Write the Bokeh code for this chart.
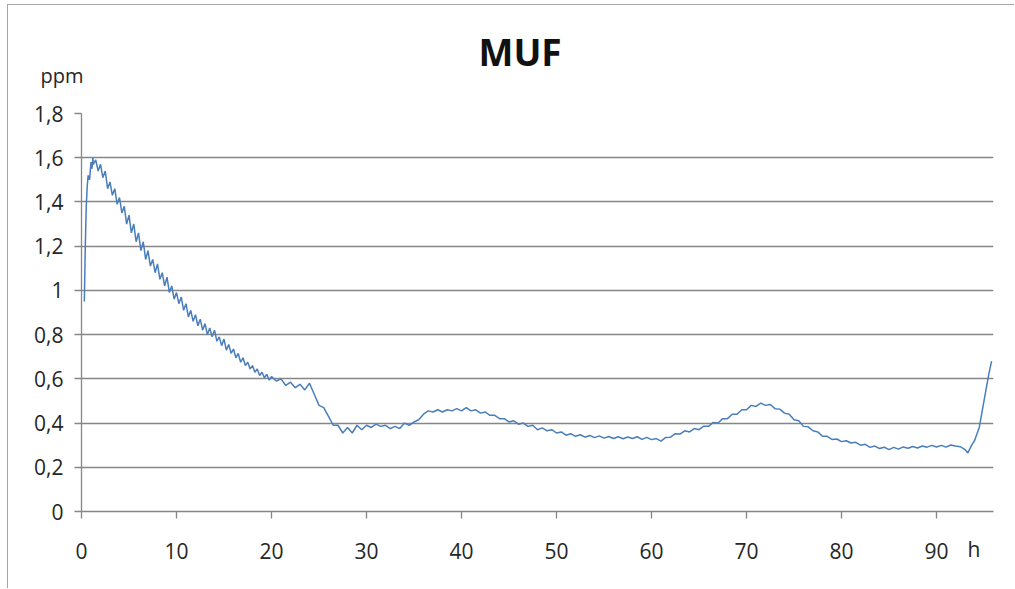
from bokeh.plotting import figure
from bokeh.models import Range1d, Title, FixedTicker, CustomJSTickFormatter
from bokeh.embed import file_html
from bokeh.resources import INLINE

# ---- data ----
hours_start = [0.3, 0.4, 0.5, 0.6, 0.7, 0.85, 1.0, 1.1, 1.2]
ppm_start = [0.95, 1.20, 1.38, 1.47, 1.52, 1.50, 1.58, 1.55, 1.60]

hours_early = [1.25, 1.5, 1.75, 2.0, 2.25, 2.5, 2.75, 3.0, 3.25, 3.5, 3.75, 4.0,
               4.25, 4.5, 4.75, 5.0, 5.25, 5.5, 5.75, 6.0, 6.25, 6.5, 6.75, 7.0,
               7.25, 7.5, 7.75, 8.0, 8.25, 8.5, 8.75, 9.0, 9.25, 9.5, 9.75, 10.0,
               10.25, 10.5, 10.75, 11.0, 11.25, 11.5, 11.75, 12.0, 12.25, 12.5, 12.75, 13.0,
               13.25, 13.5, 13.75, 14.0, 14.25, 14.5, 14.75, 15.0, 15.25, 15.5, 15.75, 16.0,
               16.25, 16.5, 16.75, 17.0, 17.25, 17.5, 17.75, 18.0, 18.25, 18.5, 18.75, 19.0,
               19.25, 19.5, 19.75, 20.0]
ppm_early = [1.57, 1.59, 1.54, 1.57, 1.51, 1.54, 1.46, 1.49, 1.43, 1.46, 1.39, 1.42,
             1.35, 1.38, 1.30, 1.34, 1.26, 1.30, 1.22, 1.26, 1.18, 1.22, 1.14, 1.18,
             1.11, 1.14, 1.08, 1.12, 1.05, 1.08, 1.02, 1.06, 0.99, 1.02, 0.96, 0.99,
             0.94, 0.97, 0.91, 0.94, 0.88, 0.91, 0.86, 0.89, 0.84, 0.87, 0.82, 0.85,
             0.80, 0.83, 0.79, 0.82, 0.77, 0.79, 0.75, 0.78, 0.73, 0.755, 0.715, 0.735,
             0.695, 0.715, 0.675, 0.695, 0.66, 0.675, 0.645, 0.66, 0.63, 0.645, 0.615, 0.63,
             0.605, 0.62, 0.595, 0.61]

hours_late = [20.5, 21.0, 21.5, 22.0, 22.5, 23.0, 23.5, 24.0, 24.5, 25.0, 25.5, 26.0,
              26.5, 27.0, 27.5, 28.0, 28.5, 29.0, 29.5, 30.0, 30.5, 31.0, 31.5, 32.0,
              32.5, 33.0, 33.5, 34.0, 34.5, 35.0, 35.5, 36.0, 36.5, 37.0, 37.5, 38.0,
              38.5, 39.0, 39.5, 40.0, 40.5, 41.0, 41.5, 42.0, 42.5, 43.0, 43.5, 44.0,
              44.5, 45.0, 45.5, 46.0, 46.5, 47.0, 47.5, 48.0, 48.5, 49.0, 49.5, 50.0,
              50.5, 51.0, 51.5, 52.0, 52.5, 53.0, 53.5, 54.0, 54.5, 55.0, 55.5, 56.0,
              56.5, 57.0, 57.5, 58.0, 58.5, 59.0, 59.5, 60.0, 60.5, 61.0, 61.5, 62.0,
              62.5, 63.0, 63.5, 64.0, 64.5, 65.0, 65.5, 66.0, 66.5, 67.0, 67.5, 68.0,
              68.5, 69.0, 69.5, 70.0, 70.5, 71.0, 71.5, 72.0, 72.5, 73.0, 73.5, 74.0,
              74.5, 75.0, 75.5, 76.0, 76.5, 77.0, 77.5, 78.0, 78.5, 79.0, 79.5, 80.0,
              80.5, 81.0, 81.5, 82.0, 82.5, 83.0, 83.5, 84.0, 84.5, 85.0, 85.5, 86.0,
              86.5, 87.0, 87.5, 88.0, 88.5, 89.0, 89.5, 90.0, 90.5, 91.0, 91.5, 92.0,
              92.5, 93.0, 93.3, 93.7, 94.0, 94.5, 95.0, 95.5, 95.8]
ppm_late = [0.59, 0.60, 0.57, 0.585, 0.56, 0.575, 0.55, 0.58, 0.53, 0.48, 0.47, 0.43,
            0.39, 0.39, 0.355, 0.38, 0.355, 0.39, 0.37, 0.39, 0.38, 0.395, 0.385, 0.39,
            0.375, 0.385, 0.375, 0.40, 0.39, 0.405, 0.415, 0.44, 0.455, 0.45, 0.46, 0.45,
            0.46, 0.455, 0.465, 0.455, 0.47, 0.455, 0.46, 0.445, 0.45, 0.435, 0.435, 0.42,
            0.42, 0.405, 0.41, 0.395, 0.40, 0.385, 0.39, 0.37, 0.378, 0.365, 0.37, 0.355,
            0.36, 0.345, 0.352, 0.34, 0.347, 0.336, 0.344, 0.334, 0.342, 0.332, 0.339, 0.33,
            0.338, 0.329, 0.337, 0.33, 0.338, 0.326, 0.335, 0.325, 0.33, 0.318, 0.335, 0.336,
            0.352, 0.35, 0.365, 0.36, 0.375, 0.37, 0.386, 0.385, 0.403, 0.40, 0.42, 0.42,
            0.44, 0.44, 0.46, 0.46, 0.48, 0.475, 0.49, 0.48, 0.484, 0.465, 0.463, 0.445,
            0.44, 0.415, 0.41, 0.385, 0.383, 0.365, 0.36, 0.34, 0.34, 0.326, 0.328, 0.316,
            0.32, 0.31, 0.313, 0.30, 0.304, 0.29, 0.296, 0.285, 0.291, 0.28, 0.29, 0.282,
            0.292, 0.286, 0.294, 0.287, 0.296, 0.291, 0.299, 0.292, 0.299, 0.291, 0.301, 0.296,
            0.293, 0.28, 0.265, 0.30, 0.32, 0.38, 0.50, 0.62, 0.68]

hours = hours_start + hours_early + hours_late
ppm = ppm_start + ppm_early + ppm_late

x_ticks = [0, 10, 20, 30, 40, 50, 60, 70, 80, 90]
y_ticks = [0, 0.2, 0.4, 0.6, 0.8, 1.0, 1.2, 1.4, 1.6, 1.8]
title_text = "MUF"
y_unit = "ppm"
x_unit = "h"

FONT = "Open Sans"
TXT = "#262626"
GRID = "#868686"

p = figure(width=1007, height=584, output_backend="svg", toolbar_location=None, title=None,
           x_range=Range1d(0, 96), y_range=Range1d(0, 1.8),
           min_border_left=73, min_border_right=22, min_border_top=108, min_border_bottom=78)
p.outline_line_color = None
p.styles = {"margin-left": "7px", "margin-top": "4px",
            "border-left": "1px solid #a6a6a6", "border-top": "1px solid #a6a6a6"}

p.line(hours, ppm, line_color="#4a7ebb", line_width=1.5)

p.xgrid.visible = False
p.ygrid.grid_line_color = GRID
p.ygrid.grid_line_width = 1.3
p.ygrid.ticker = FixedTicker(ticks=y_ticks)

for ax in (p.xaxis[0], p.yaxis[0]):
    ax.axis_line_color = GRID
    ax.axis_line_width = 1.3
    ax.major_tick_line_color = GRID
    ax.major_tick_line_width = 1.3
    ax.major_tick_in = 0
    ax.major_tick_out = 7
    ax.minor_tick_line_color = None
    ax.major_label_text_font = FONT
    ax.major_label_text_font_size = "21px"
    ax.major_label_text_color = TXT

p.xaxis.ticker = FixedTicker(ticks=x_ticks)
p.xaxis.major_label_standoff = 24

p.yaxis.ticker = FixedTicker(ticks=y_ticks)
p.yaxis.major_label_standoff = 11
p.yaxis.formatter = CustomJSTickFormatter(code="""
    var s = (Math.round(tick*10)/10).toString();
    return s.replace('.', ',');
""")

p.add_layout(Title(text=y_unit, align="left", offset=-41, standoff=50,
                   text_font=FONT, text_font_size="20px", text_font_style="normal",
                   text_color=TXT), "above")
p.add_layout(Title(text=title_text, align="left", offset=397, standoff=-84,
                   text_font=FONT, text_font_size="37px", text_font_style="bold",
                   text_color="#111111"), "above")
p.add_layout(Title(text=x_unit, align="left", offset=886, standoff=-53,
                   vertical_align="top",
                   text_font=FONT, text_font_size="21px", text_font_style="normal",
                   text_color=TXT), "below")

open("out.html", "w").write(file_html(p, INLINE))
